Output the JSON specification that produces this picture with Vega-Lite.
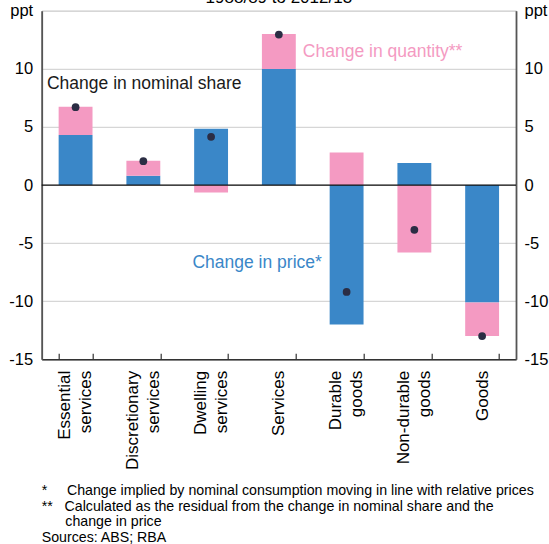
{
  "$schema": "https://vega.github.io/schema/vega-lite/v6.json",
  "width": 474.3,
  "height": 348.5,
  "autosize": "none",
  "padding": {"left": 41.7, "top": 10.8, "right": 33, "bottom": 184.7},
  "config": {
    "font": "Liberation Sans",
    "view": {"stroke": "#8a8a8a", "strokeWidth": 1}
  },
  "title": {
    "text": [
      "*\u00a0\u00a0\u00a0\u00a0\u00a0Change implied by nominal consumption moving in line with relative prices",
      "**\u00a0\u00a0\u00a0Calculated as the residual from the change in nominal share and the",
      "\u200b\u00a0\u00a0\u00a0\u00a0\u00a0\u00a0change in price",
      "Sources: ABS; RBA"
    ],
    "orient": "bottom",
    "anchor": "start",
    "frame": "group",
    "fontSize": 14.2,
    "fontWeight": "normal",
    "lineHeight": 15.4,
    "color": "#000",
    "offset": 15
  },
  "datasets": {
    "bars": [
      {"category": "Essential services", "component": "price", "ord": 1, "value": 4.3},
      {"category": "Essential services", "component": "quantity", "ord": 2, "value": 2.45},
      {"category": "Discretionary services", "component": "price", "ord": 1, "value": 0.8},
      {"category": "Discretionary services", "component": "quantity", "ord": 2, "value": 1.3},
      {"category": "Dwelling services", "component": "price", "ord": 1, "value": 4.85},
      {"category": "Dwelling services", "component": "quantity", "ord": 2, "value": -0.65},
      {"category": "Services", "component": "price", "ord": 1, "value": 10.0},
      {"category": "Services", "component": "quantity", "ord": 2, "value": 3.0},
      {"category": "Durable goods", "component": "price", "ord": 1, "value": -12.0},
      {"category": "Durable goods", "component": "quantity", "ord": 2, "value": 2.8},
      {"category": "Non-durable goods", "component": "price", "ord": 1, "value": 1.9},
      {"category": "Non-durable goods", "component": "quantity", "ord": 2, "value": -5.8},
      {"category": "Goods", "component": "price", "ord": 1, "value": -10.1},
      {"category": "Goods", "component": "quantity", "ord": 2, "value": -2.9}
    ],
    "dots": [
      {"category": "Essential services", "share": 6.7},
      {"category": "Discretionary services", "share": 2.05},
      {"category": "Dwelling services", "share": 4.15},
      {"category": "Services", "share": 12.95},
      {"category": "Durable goods", "share": -9.2},
      {"category": "Non-durable goods", "share": -3.85},
      {"category": "Goods", "share": -13.0}
    ]
  },
  "resolve": {"axis": {"y": "independent"}},
  "layer": [
    {
      "data": {"name": "bars"},
      "mark": {"type": "bar"},
      "encoding": {
        "x": {
          "field": "category",
          "type": "nominal",
          "sort": null,
          "scale": {"paddingInner": 0.5, "paddingOuter": 0.25},
          "axis": {
            "title": null,
            "labelAngle": -90,
            "labelAlign": "right",
            "labelBaseline": {"condition": {"test": "indexof('' + datum.label, ' ') >= 0", "value": "line-bottom"}, "value": "middle"},
            "labelFontSize": 17,
            "labelLineHeight": 21,
            "labelColor": "#000",
            "labelExpr": "split(datum.label, ' ')",
            "labelPadding": 17,
            "tickBand": "extent",
            "tickSize": -6,
            "tickColor": "#333",
            "tickWidth": 1.2,
            "domainColor": "#333",
            "domainWidth": 1.5,
            "grid": false
          }
        },
        "y": {
          "field": "value",
          "type": "quantitative",
          "stack": "zero",
          "scale": {"domain": [-15, 15], "nice": false},
          "axis": {
            "title": null,
            "orient": "left",
            "values": [-15, -10, -5, 0, 5, 10, 15],
            "labelExpr": "datum.value == 15 ? 'ppt' : '' + datum.value",
            "ticks": false,
            "grid": true,
            "gridColor": "#d6d6d6",
            "gridWidth": 1.2,
            "domainColor": "#555",
            "domainWidth": 1.8,
            "labelFontSize": 16.5,
            "labelPadding": 9,
            "labelColor": "#000"
          }
        },
        "color": {
          "field": "component",
          "type": "nominal",
          "scale": {"domain": ["price", "quantity"], "range": ["#3a87c8", "#f49ac2"]},
          "legend": null
        },
        "order": {"field": "ord", "type": "quantitative"}
      }
    },
    {
      "data": {"values": [{"v": 0}]},
      "mark": {"type": "rule", "color": "#111", "strokeWidth": 1.2},
      "encoding": {
        "y": {
          "field": "v",
          "type": "quantitative",
          "axis": {
            "title": null,
            "orient": "right",
            "values": [-15, -10, -5, 0, 5, 10, 15],
            "labelExpr": "datum.value == 15 ? 'ppt' : '' + datum.value",
            "ticks": false,
            "grid": false,
            "domainColor": "#555",
            "domainWidth": 1.8,
            "labelFontSize": 16.5,
            "labelPadding": 8,
            "labelColor": "#000"
          }
        }
      }
    },
    {
      "data": {"name": "dots"},
      "mark": {"type": "circle", "color": "#2b2d44", "opacity": 1, "size": 60},
      "encoding": {
        "x": {"field": "category", "type": "nominal", "sort": null},
        "y": {"field": "share", "type": "quantitative", "axis": null}
      }
    },
    {
      "data": {"values": [{"category": "Services", "label": "1988/89 to 2012/13", "pos": 15.65}]},
      "mark": {"type": "text", "fontSize": 17, "color": "#000", "baseline": "alphabetic", "align": "center"},
      "encoding": {
        "x": {"field": "category", "type": "nominal", "sort": null},
        "y": {"field": "pos", "type": "quantitative", "axis": null},
        "text": {"field": "label"}
      }
    },
    {
      "data": {"values": [{"category": "Essential services", "label": "Change in nominal share", "pos": 8.71}]},
      "mark": {"type": "text", "fontSize": 17.5, "color": "#1a1a1a", "baseline": "middle", "align": "left", "dx": -28.6},
      "encoding": {
        "x": {"field": "category", "type": "nominal", "sort": null},
        "y": {"field": "pos", "type": "quantitative", "axis": null},
        "text": {"field": "label"}
      }
    },
    {
      "data": {"values": [{"category": "Services", "label": "Change in quantity**", "pos": 11.46}]},
      "mark": {"type": "text", "fontSize": 17.5, "color": "#f49ac2", "baseline": "middle", "align": "left", "dx": 24},
      "encoding": {
        "x": {"field": "category", "type": "nominal", "sort": null},
        "y": {"field": "pos", "type": "quantitative", "axis": null},
        "text": {"field": "label"}
      }
    },
    {
      "data": {"values": [{"category": "Services", "label": "Change in price*", "pos": -6.71}]},
      "mark": {"type": "text", "fontSize": 17.5, "color": "#3a87c8", "baseline": "middle", "align": "right", "dx": 43},
      "encoding": {
        "x": {"field": "category", "type": "nominal", "sort": null},
        "y": {"field": "pos", "type": "quantitative", "axis": null},
        "text": {"field": "label"}
      }
    }
  ]
}
